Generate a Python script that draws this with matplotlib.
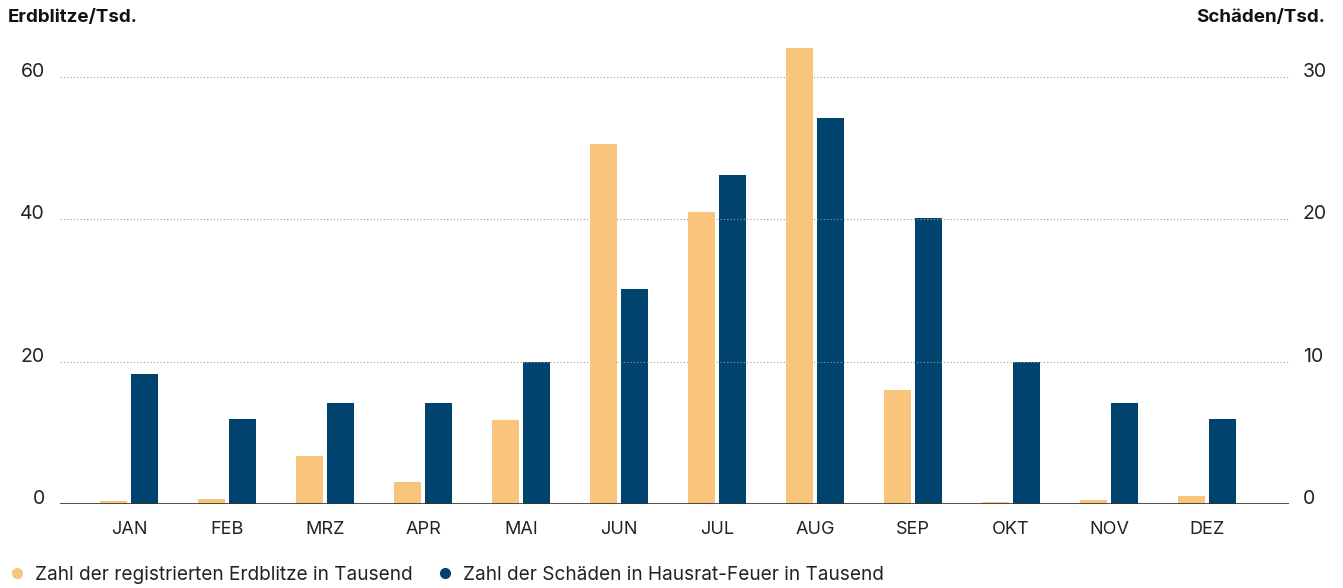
import numpy as np
import matplotlib
matplotlib.use("Agg")
import matplotlib.pyplot as plt
import matplotlib.transforms as mtransforms
from matplotlib.lines import Line2D

plt.rcParams['font.family'] = ['Inter', 'DejaVu Sans']

# Daten
monate = ["JAN", "FEB", "MRZ", "APR", "MAI", "JUN", "JUL", "AUG", "SEP", "OKT", "NOV", "DEZ"]
erdblitze = [0.4, 0.7, 6.7, 3.1, 11.8, 50.6, 41.0, 64.1, 16.0, 0.3, 0.6, 1.1]   # Tsd.
schaeden = [9.1, 6.0, 7.1, 7.1, 10.0, 15.1, 23.1, 27.1, 20.1, 10.0, 7.1, 6.0]   # Tsd.

orange = "#F9C47B"
blau = "#00436E"

fig = plt.figure(figsize=(13.43, 5.88), dpi=100)
ax = fig.add_axes([60 / 1343, 84 / 588, 1229 / 1343, 462.6 / 588])
ax2 = ax.twinx()

x = np.arange(len(monate))
w = 0.276
off = 0.158
ax.bar(x - off, erdblitze, w, color=orange, zorder=3)
ax2.bar(x + off, schaeden, w, color=blau, zorder=3)

ax.set_xlim(-0.704, 11.837)
ax.set_ylim(0, 65)
ax2.set_ylim(0, 32.5)
ax.set_yticks([0, 20, 40, 60])
ax2.set_yticks([0, 10, 20, 30])
ax.set_xticks(x)
ax.set_xticklabels(monate)

# Gitterlinien gepunktet
for v in [20, 40, 60]:
    ax.axhline(v, color="#9a9a9a", linestyle=(0, (1, 2)), linewidth=0.8, zorder=1)

for a in (ax, ax2):
    for s in ["top", "left", "right", "bottom"]:
        a.spines[s].set_visible(False)
    a.tick_params(length=0, labelsize=14, colors="#222222")
ax.axhline(0, color="#333333", linewidth=1.2, zorder=4)

ax.tick_params(axis="y", pad=11)
ax2.tick_params(axis="y", pad=10)
ax.tick_params(axis="x", pad=12, labelsize=13)

shift = mtransforms.ScaledTranslation(0, 7 / 100, fig.dpi_scale_trans)
for lab in ax.get_yticklabels() + ax2.get_yticklabels():
    lab.set_transform(lab.get_transform() + shift)

ax.set_zorder(ax2.get_zorder() + 1)
ax.patch.set_visible(False)

fig.text(8 / 1343, 1 - 18 / 588, "Erdblitze/Tsd.", fontsize=13.5, fontweight="bold",
         ha="left", va="center", color="#111111")
fig.text(1325 / 1343, 1 - 18 / 588, "Schäden/Tsd.", fontsize=13.5, fontweight="bold",
         ha="right", va="center", color="#111111")

handles = [
    Line2D([], [], marker="o", linestyle="none", color=orange, markersize=7),
    Line2D([], [], marker="o", linestyle="none", color=blau, markersize=7),
]
fig.legend(handles, ["Zahl der registrierten Erdblitze in Tausend",
                     "Zahl der Schäden in Hausrat-Feuer in Tausend"],
           loc="center left", bbox_to_anchor=(0, 1 - 575 / 588), ncol=2, frameon=False,
           fontsize=13.7, handletextpad=0.35, columnspacing=1.1, handlelength=1.2,
           borderaxespad=0, borderpad=0.3, labelcolor="#222222")

fig.savefig("out.png", dpi=100)
